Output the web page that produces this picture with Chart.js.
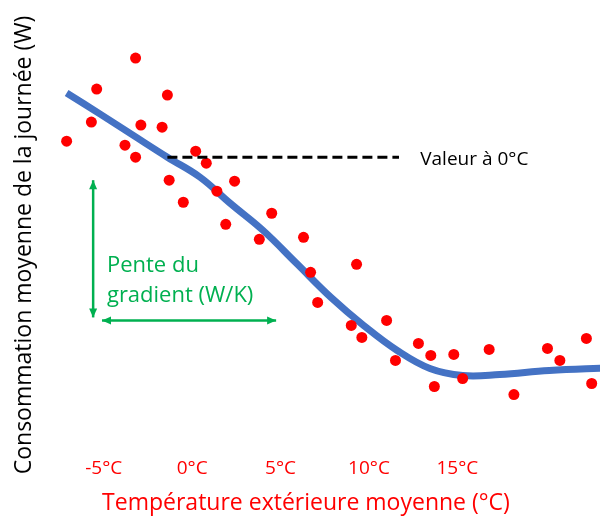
<!DOCTYPE html>
<html>
<head>
<meta charset="utf-8">
<script src="https://cdn.jsdelivr.net/npm/chart.js@4/dist/chart.umd.min.js"></script>
<style>
  body { margin: 0; background: #fff; }
  #wrap { width: 600px; height: 517px; }
</style>
</head>
<body>
<div id="wrap"><canvas id="heatChart"></canvas></div>
<script>
// mesures journalieres (°C, W)
var dayTemp = [-7.1, -5.4, -5.7, -3.2, -3.8, -3.2, -2.9, -1.4, -1.7, 0.2, 0.8, -1.3, -0.5, 1.4, 2.4, 1.9,
  3.8, 4.5, 6.3, 6.7, 9.3, 7.1, 9.0, 9.6, 11.0, 11.5, 12.8, 13.5, 14.8, 13.7, 15.3, 16.8, 18.2, 20.1, 20.8, 22.3, 22.6];
var dayPower = [618, 722, 656, 784, 610, 586, 650, 710, 646, 598, 574, 540, 496, 518, 538, 452,
  422, 474, 426, 356, 372, 296, 250, 226, 260, 180, 214, 190, 192, 128, 144, 202, 112, 204, 180, 224, 134];

// courbe lissee
var fitTemp = [-7.1, -5.2, -3.35, -1.4, 0.45, 2.15, 4.0, 5.9, 7.85, 9.7, 11.6, 13.45, 15.3, 17.4, 20.2, 23.5];
var fitPower = [714, 672, 630, 586, 546, 494, 440, 374, 306, 250, 200, 164, 150, 152, 160, 165];

var xTicks = [-5, 0, 5, 10, 15];

// valeur a 0°C (ligne pointillee)
var refTemp = [-1.4, 11.7];
var refPower = 586;

var green = "#00b050";
var font = "'Open Sans', sans-serif";

var extras = {
  id: "extras",
  afterDraw: function (chart) {
    var c = chart.ctx;
    var xs = chart.scales.x, ys = chart.scales.y;
    var px = function (v) { return xs.getPixelForValue(v); };
    var py = function (v) { return ys.getPixelForValue(v); };

    function arrow(x1, y1, x2, y2) {
      c.beginPath();
      c.moveTo(x1, y1);
      c.lineTo(x2, y2);
      c.stroke();
      [[x1, y1, x2, y2], [x2, y2, x1, y1]].forEach(function (s) {
        var a = Math.atan2(s[1] - s[3], s[0] - s[2]);
        c.save();
        c.translate(s[0], s[1]);
        c.rotate(a);
        c.beginPath();
        c.moveTo(0, 0);
        c.lineTo(-9, -4);
        c.lineTo(-9, 4);
        c.closePath();
        c.fill();
        c.restore();
      });
    }

    c.save();
    c.strokeStyle = green;
    c.fillStyle = green;
    c.lineWidth = 2.5;
    arrow(px(-5.6), py(540), px(-5.6), py(266));
    arrow(px(-5.1), py(260), px(4.75), py(260));

    c.font = "22px " + font;
    c.textBaseline = "alphabetic";
    c.textAlign = "left";
    c.fillText("Pente du", px(-4.82), py(356));
    c.fillText("gradient (W/K)", px(-4.82), py(296));

    c.fillStyle = "#000";
    c.font = "19px " + font;
    c.textBaseline = "middle";
    c.fillText("Valeur à 0°C", px(12.9), py(582));

    // titre axe vertical
    c.translate(24, 245);
    c.rotate(-Math.PI / 2);
    c.textAlign = "center";
    c.font = "23px " + font;
    c.fillText("Consommation moyenne de la journée (W)", 0, 0);
    c.restore();
  },
};

var ctx = document.getElementById("heatChart").getContext("2d");
var heatChart = new Chart(ctx, {
  type: "scatter",
  data: {
    datasets: [
      {
        label: "Mesures",
        data: dayTemp.map(function (t, i) { return { x: t, y: dayPower[i] }; }),
        backgroundColor: "#ff0000",
        borderWidth: 0,
        pointRadius: 5.5,
        order: 1,
      },
      {
        type: "line",
        label: "Tendance",
        data: fitTemp.map(function (t, i) { return { x: t, y: fitPower[i] }; }),
        borderColor: "#4472c4",
        borderWidth: 7,
        pointRadius: 0,
        fill: false,
        tension: 0.4,
        order: 2,
      },
      {
        type: "line",
        label: "Valeur à 0°C",
        data: refTemp.map(function (t) { return { x: t, y: refPower }; }),
        borderColor: "#000",
        borderWidth: 3,
        borderDash: [10, 5],
        pointRadius: 0,
        fill: false,
        order: 0,
      },
    ],
  },
  options: {
    responsive: true,
    maintainAspectRatio: false,
    animation: false,
    layout: { autoPadding: false, padding: { left: 12, right: 0, top: 40, bottom: 0 } },
    plugins: {
      legend: { display: false },
      tooltip: { enabled: false },
    },
    scales: {
      x: {
        type: "linear",
        min: -10.19,
        max: 23.07,
        afterBuildTicks: function (axis) {
          axis.ticks = xTicks.map(function (v) { return { value: v }; });
        },
        grid: { display: false, drawTicks: false, tickLength: 0 },
        border: { display: false },
        ticks: {
          color: "#ff0000",
          padding: 7,
          font: { family: font, size: 19 },
          callback: function (v) { return v + "°C"; },
        },
        title: {
          display: true,
          text: "Température extérieure moyenne (°C)",
          color: "#ff0000",
          font: { family: font, size: 23 },
          padding: { top: 2, bottom: 0 },
        },
      },
      y: {
        display: false,
        min: 0,
        max: 820,
      },
    },
  },
  plugins: [extras],
});
</script>
</body>
</html>
